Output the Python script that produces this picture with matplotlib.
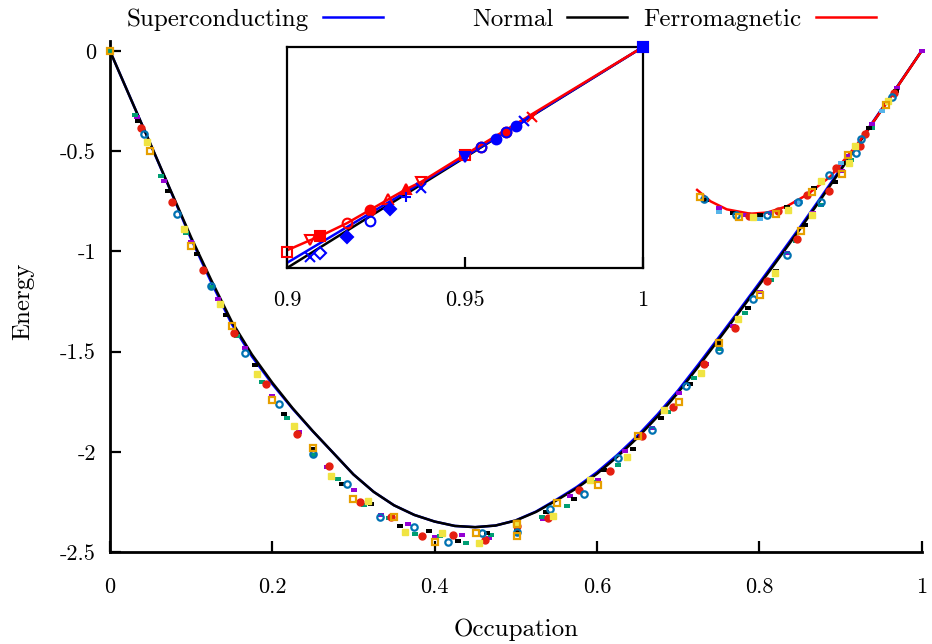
import matplotlib
matplotlib.use('Agg')
import matplotlib.pyplot as plt

# ---- curves (main panel) ----
line_x = [0.0, 0.025, 0.05, 0.075, 0.1, 0.125, 0.15, 0.175, 0.2, 0.225, 0.25, 0.275, 0.3, 0.325,
          0.35, 0.375, 0.4, 0.425, 0.45, 0.475, 0.5, 0.525, 0.55, 0.575, 0.6, 0.625, 0.65, 0.675,
          0.7, 0.725, 0.75, 0.775, 0.8, 0.825, 0.85, 0.875, 0.9, 0.925, 0.95, 0.975, 1.0]
normal_y = [0.0, -0.233, -0.465, -0.698, -0.93, -1.145, -1.35, -1.515, -1.655, -1.782, -1.897, -2.005,
            -2.113, -2.2, -2.267, -2.315, -2.348, -2.37, -2.376, -2.368, -2.343, -2.3, -2.243, -2.182,
            -2.11, -2.025, -1.93, -1.823, -1.705, -1.575, -1.44, -1.305, -1.168, -1.03, -0.89, -0.745,
            -0.597, -0.448, -0.299, -0.15, 0.0]
super_y = [0.0, -0.233, -0.466, -0.701, -0.938, -1.156, -1.362, -1.525, -1.662, -1.785, -1.898, -2.005,
           -2.113, -2.2, -2.267, -2.315, -2.348, -2.37, -2.376, -2.368, -2.342, -2.298, -2.239, -2.176,
           -2.102, -2.016, -1.92, -1.812, -1.694, -1.564, -1.43, -1.295, -1.158, -1.02, -0.88, -0.736,
           -0.589, -0.442, -0.295, -0.148, 0.0]
ferro_x = [0.7235, 0.74, 0.76, 0.789, 0.81, 0.834, 0.859, 0.888, 0.921, 0.949, 0.97, 1.0]
ferro_y = [-0.693, -0.75, -0.79, -0.812, -0.806, -0.775, -0.717, -0.625, -0.465, -0.305, -0.18, 0.0]

# ---- scattered points (main panel) ----
purple_x = [0.0, 0.0336, 0.0669, 0.0998, 0.1327, 0.1664, 0.1996, 0.2333, 0.267, 0.3003, 0.3336, 0.3668,
            0.4005, 0.4338, 0.467, 0.5012, 0.534, 0.5672, 0.601, 0.6346, 0.6675, 0.7012, 0.7345, 0.7681,
            0.801, 0.834, 0.8667, 0.9017,
            0.7508, 0.7834, 0.8142, 0.846, 0.8765, 0.9078, 0.939, 0.9702, 1.0]
purple_y = [0.0, -0.328, -0.65, -0.953, -1.238, -1.483, -1.721, -1.899, -2.078, -2.191, -2.314, -2.361,
            -2.427, -2.417, -2.432, -2.373, -2.333, -2.221, -2.143, -1.995, -1.882, -1.707, -1.563, -1.37,
            -1.202, -1.01, -0.81, -0.599,
            -0.782, -0.818, -0.81, -0.752, -0.655, -0.522, -0.364, -0.186, 0.0]

teal_x = [0.0, 0.0308, 0.0625, 0.0933, 0.1248, 0.1565, 0.1873, 0.2185, 0.2498, 0.2813, 0.3126, 0.3438,
          0.3755, 0.4067, 0.4383, 0.4695, 0.5012, 0.532, 0.5632, 0.5956, 0.6264, 0.6564, 0.688, 0.72,
          0.7508, 0.7825, 0.8142, 0.845, 0.876, 0.9127, 0.939]
teal_y = [0.0, -0.318, -0.622, -0.909, -1.179, -1.421, -1.651, -1.832, -2.015, -2.136, -2.264, -2.329,
          -2.409, -2.419, -2.455, -2.417, -2.405, -2.323, -2.269, -2.153, -2.065, -1.919, -1.799, -1.634,
          -1.488, -1.305, -1.142, -0.946, -0.768, -0.543, -0.384]

black_x = [0.0349, 0.0718, 0.1068, 0.1426, 0.1787, 0.2144, 0.2498, 0.2855, 0.3216, 0.3574, 0.3931, 0.4292,
           0.4649, 0.5012, 0.5369, 0.5722, 0.6087, 0.6441, 0.679, 0.7147, 0.7508, 0.7866, 0.8213, 0.857, 0.893,
           0.7348, 0.7681, 0.801, 0.8345, 0.868, 0.9017, 0.9353, 0.968]
black_y = [-0.349, -0.697, -1.014, -1.317, -1.568, -1.809, -1.985, -2.16, -2.258, -2.371, -2.394, -2.444,
           -2.406, -2.393, -2.298, -2.236, -2.09, -1.985, -1.83, -1.662, -1.458, -1.283, -1.1, -0.87, -0.655,
           -0.741, -0.808, -0.818, -0.78, -0.685, -0.557, -0.386, -0.2]

red_x = [0.0382, 0.0768, 0.115, 0.1532, 0.1922, 0.2308, 0.2695, 0.3077, 0.3463, 0.3848, 0.423, 0.4621,
         0.5012, 0.5394, 0.5779, 0.6161, 0.6552, 0.6934, 0.732, 0.7705, 0.8092, 0.8469, 0.8864, 0.9242,
         0.7876, 0.8235, 0.8589, 0.8943, 0.9304, 0.9661]
red_y = [-0.384, -0.755, -1.092, -1.408, -1.662, -1.912, -2.073, -2.248, -2.323, -2.422, -2.417, -2.439,
         -2.368, -2.331, -2.193, -2.098, -1.919, -1.777, -1.561, -1.383, -1.147, -0.939, -0.697, -0.472,
         -0.823, -0.799, -0.718, -0.582, -0.414, -0.208]

blue_x = [0.0414, 0.0829, 0.1248, 0.1664, 0.2083, 0.2498, 0.2917, 0.3327, 0.375, 0.4169, 0.4588, 0.5012,
          0.5422, 0.5845, 0.6264, 0.6675, 0.7094, 0.7508, 0.7927, 0.8338, 0.8757, 0.9193,
          0.7317, 0.7711, 0.8096, 0.8472, 0.8864, 0.9251, 0.9633]
blue_y = [-0.415, -0.814, -1.171, -1.505, -1.761, -2.01, -2.163, -2.326, -2.374, -2.452, -2.407, -2.4,
          -2.284, -2.211, -2.03, -1.89, -1.674, -1.49, -1.235, -1.017, -0.755, -0.51,
          -0.736, -0.816, -0.818, -0.755, -0.62, -0.44, -0.228]

yellow_x = [0.0452, 0.0908, 0.1359, 0.1815, 0.2271, 0.2727, 0.3183, 0.3639, 0.4095, 0.4551, 0.5, 0.5463,
            0.5919, 0.6375, 0.6831, 0.7283, 0.7739, 0.8198, 0.8647, 0.911,
            0.7927, 0.835, 0.876, 0.918, 0.959]
yellow_y = [-0.454, -0.886, -1.262, -1.612, -1.869, -2.123, -2.246, -2.398, -2.406, -2.455, -2.356, -2.319,
            -2.143, -2.025, -1.79, -1.607, -1.338, -1.109, -0.818, -0.56,
            -0.828, -0.795, -0.65, -0.474, -0.249]

orange_x = [0.0, 0.0497, 0.0998, 0.15, 0.2, 0.2498, 0.2998, 0.3503, 0.4005, 0.4506, 0.5012, 0.5012, 0.5508,
            0.601, 0.651, 0.7012, 0.7508, 0.801, 0.8515, 0.9017,
            0.727, 0.7745, 0.8201, 0.8651, 0.9091, 0.9562]
orange_y = [0.0, -0.499, -0.971, -1.37, -1.739, -1.982, -2.234, -2.323, -2.45, -2.405, -2.36, -2.42, -2.256,
            -2.165, -1.923, -1.749, -1.458, -1.217, -0.898, -0.616,
            -0.728, -0.826, -0.811, -0.702, -0.52, -0.269]

lightblue_x = [0.7508, 0.801, 0.8503, 0.901, 0.951]
lightblue_y = [-0.801, -0.836, -0.755, -0.56, -0.299]

# ---- inset ----
in_line_x = [0.9, 0.95, 1.0]
in_normal_y = [-0.6, -0.2995, 0.0]
in_super_y = [-0.586, -0.2977, 0.0]
in_ferro_x = [0.9, 0.9064, 0.9092, 0.9169, 0.9232, 0.9284, 0.9335, 0.9377, 0.9499, 1.0]
in_ferro_y = [-0.552, -0.525, -0.514, -0.478, -0.443, -0.414, -0.386, -0.366, -0.293, 0.0]

in_red_x = [0.9, 0.9064, 0.9092, 0.9169, 0.9232, 0.9284, 0.9335, 0.9377, 0.9499, 0.9544, 0.9616, 0.9689, 1.0]
in_red_y = [-0.557, -0.525, -0.514, -0.478, -0.443, -0.414, -0.386, -0.366, -0.293, -0.272, -0.23, -0.189, 0.0]
in_blue_x = [0.9064, 0.9092, 0.9169, 0.9232, 0.9288, 0.9335, 0.9377, 0.9499, 0.9544, 0.9586, 0.9616,
             0.9644, 0.9667, 1.0]
in_blue_y = [-0.57, -0.558, -0.516, -0.473, -0.441, -0.407, -0.384, -0.2996, -0.272, -0.25, -0.23,
             -0.214, -0.2, 0.0]

plt.rcParams['font.family'] = 'cmr10'
plt.rcParams['axes.unicode_minus'] = False

fig = plt.figure(figsize=(9.32, 6.44), dpi=100)
ax = fig.add_axes([110 / 932, 92 / 644, 811.5 / 932, 511 / 644])

l_sc, = ax.plot(line_x, super_y, color='blue', lw=1.8, label='Superconducting', zorder=2)
l_n, = ax.plot(line_x, normal_y, color='black', lw=1.8, label='Normal', zorder=2.1)
l_f, = ax.plot(ferro_x, ferro_y, color='red', lw=1.8, label='Ferromagnetic', zorder=2.2)

dash = [(-1, -0.55), (1, -0.55), (1, 0.55), (-1, 0.55), (-1, -0.55)]
ax.plot(purple_x, purple_y, ls='none', marker=dash, ms=4.5, mew=0, color='#9400d3', clip_on=False, zorder=3)
ax.plot(teal_x, teal_y, ls='none', marker=dash, ms=4.5, mew=0, color='#009e73', clip_on=False, zorder=3)
ax.plot(black_x, black_y, ls='none', marker=dash, ms=4.5, mew=0, color='black', clip_on=False, zorder=3)
ax.plot(lightblue_x, lightblue_y, ls='none', marker=dash, ms=4.5, mew=0, color='#56b4e9', clip_on=False, zorder=3)
ax.plot(red_x, red_y, ls='none', marker='o', ms=5, color='#e51e10', mec='#e51e10', clip_on=False, zorder=3)
ax.plot(blue_x, blue_y, ls='none', marker='o', ms=4.6, mew=1.6, mec='#0072b2', mfc='none', clip_on=False, zorder=3)
ax.plot(yellow_x, yellow_y, ls='none', marker='s', ms=4.6, color='#f0e442', clip_on=False, zorder=3)
ax.plot(orange_x, orange_y, ls='none', marker='s', ms=4.6, mew=1.6, mec='#e69f00', mfc='none', clip_on=False, zorder=3)

ax.set_xlim(0, 1)
ax.set_ylim(-2.5, 0.05)
for s in ['top', 'right']:
    ax.spines[s].set_visible(False)
for s in ['left', 'bottom']:
    ax.spines[s].set_linewidth(2)
ax.set_xticks([0, 0.2, 0.4, 0.6, 0.8, 1])
ax.set_xticklabels(['0', '0.2', '0.4', '0.6', '0.8', '1'])
ax.set_yticks([0, -0.5, -1, -1.5, -2, -2.5])
ax.set_yticklabels(['0', '-0.5', '-1', '-1.5', '-2', '-2.5'])
ax.tick_params(axis='both', direction='in', length=8, width=1.6, labelsize=16)
ax.tick_params(axis='x', pad=18)
ax.tick_params(axis='y', pad=10)
ax.set_xlabel('Occupation', fontsize=18)
ax.xaxis.set_label_coords(0.5, -0.131)
ax.set_ylabel('Energy', fontsize=18)
ax.yaxis.set_label_coords(-0.093, 0.491)

# inset
ax2 = fig.add_axes([287 / 932, 376 / 644, 356 / 932, 221 / 644])
ax2.plot(in_line_x, in_super_y, color='blue', lw=1.8, zorder=2)
ax2.plot(in_line_x, in_normal_y, color='black', lw=1.8, zorder=1.9)
ax2.plot(in_ferro_x, in_ferro_y, color='red', lw=1.8, zorder=2.1)

red_marks = ['s', 'v', 's', 'o', 'o', '^', '^', 'v', 's', 'o', 'o', 'x', 's']
red_fill = [False, False, True, False, True, False, True, False, False, False, True, True, True]
blue_marks = ['x', 'D', 'D', 'o', 'D', '+', 'x', 'v', 'o', 'o', 'o', 'o', 'x', 's']
blue_fill = [True, False, True, False, True, True, True, True, False, True, False, True, True, True]
for x, y, m, f in zip(in_red_x, in_red_y, red_marks, red_fill):
    ax2.plot(x, y, marker=m, ms=7, mew=1.5, color='red', mfc='red' if f else 'none',
             clip_on=False, zorder=3)
for x, y, m, f in zip(in_blue_x, in_blue_y, blue_marks, blue_fill):
    ax2.plot(x, y, marker=m, ms=6.5 if m == 'D' else 7, mew=1.5, color='blue',
             mfc='blue' if f else 'none', clip_on=False, zorder=3.1)

ax2.set_xlim(0.9, 1)
ax2.set_ylim(-0.6, 0)
for s in ax2.spines.values():
    s.set_linewidth(1.6)
ax2.set_xticks([0.9, 0.95, 1])
ax2.set_xticklabels(['0.9', '0.95', '1'])
ax2.set_yticks([])
ax2.tick_params(axis='x', direction='in', length=8, width=1.6, labelsize=16, pad=16)

# key along the top
for h, xr in [(l_sc, 382.5), (l_n, 627), (l_f, 875.5)]:
    fig.legend(handles=[h], loc='center right', bbox_to_anchor=(xr / 932, 0.969),
               frameon=False, markerfirst=False, handlelength=2.4, handletextpad=0.55,
               borderpad=0, borderaxespad=0, fontsize=18)

fig.savefig('out.png', dpi=100)
